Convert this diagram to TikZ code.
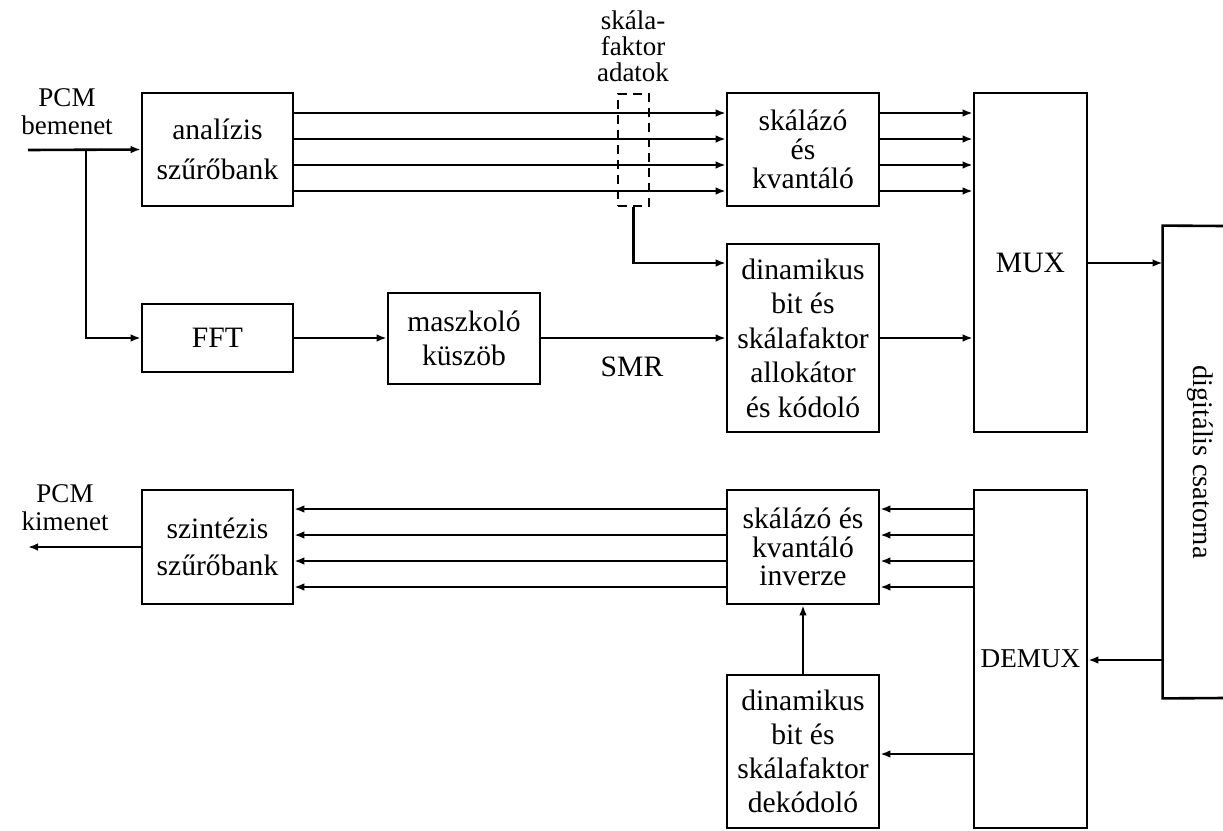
\documentclass[tikz,border=0pt]{standalone}
\usepackage{fontspec}
\setmainfont{Liberation Serif}
\usetikzlibrary{arrows.meta}

\tikzset{
  blk/.style={draw, line width=1.3pt, inner sep=0pt, align=center,
    font=\fontsize{14.8}{17.25}\selectfont},
  lbl/.style={inner sep=0pt, align=center, font=\fontsize{13.5}{14}\selectfont},
  arr/.style={line width=1.3pt, -{Latex[length=5pt,width=3.8pt]}},
  ln/.style={line width=1.3pt},
  sp2/.style={font=\fontsize{14.8}{20}\selectfont},
  sp3/.style={font=\fontsize{14.8}{14.5}\selectfont}
}

\begin{document}
\begin{tikzpicture}[x=0.5pt,y=-0.5pt]
\useasboundingbox (0,0) rectangle (1223,831);

% --- encoder ---
\node[blk, sp2, minimum width=75.5pt, minimum height=56.5pt] (ana) at (217.5,149.5) {analízis\\szűrőbank};
\node[blk, sp3, minimum width=76pt, minimum height=56.5pt] (skq) at (803,149.5) {skálázó\\és\\kvantáló};
\node[blk, minimum width=76pt, minimum height=94pt] (dyn) at (803,338) {dinamikus\\bit és\\skálafaktor\\allokátor\\és kódoló};
\node[blk, minimum width=56.5pt, minimum height=169.5pt] (mux) at (1030.5,262.5) {MUX};
\node[blk, minimum width=75.5pt, minimum height=34pt] (fft) at (217.5,338) {FFT};
\node[blk, minimum width=76pt, minimum height=45.5pt] (mask) at (464,338.5) {maszkoló\\küszöb};
\node[draw, dashed, dash pattern=on 4.5pt off 3pt, line width=1.3pt, inner sep=0pt,
      minimum width=15.5pt, minimum height=56pt] (sfd) at (633.5,150) {};

% --- channel ---
\node[inner sep=0pt, minimum width=36pt, minimum height=236pt] (chan) at (1199,462) {};
\node[rotate=-90, font=\fontsize{14.2}{16}\selectfont] (chanlbl) at (1200,462) {digitális csatorna};
\draw[ln] (1224,226) -- (chan.north west) -- (chan.south west) -- (1224,698);

% --- decoder ---
\node[blk, font=\fontsize{14.8}{18.5}\selectfont, minimum width=75.5pt, minimum height=57pt] (syn) at (217.5,547) {szintézis\\szűrőbank};
\node[blk, font=\fontsize{14.8}{14.25}\selectfont, minimum width=76pt, minimum height=57pt] (inv) at (803,547) {skálázó és\\kvantáló\\inverze};
\node[blk, font=\fontsize{14.8}{17}\selectfont, minimum width=76pt, minimum height=76.5pt] (dek) at (803,751.5) {dinamikus\\bit és\\skálafaktor\\dekódoló};
\node[blk, font=\fontsize{13.6}{16}\selectfont, minimum width=56.5pt, minimum height=169pt] (demux) at (1030.5,659) {DEMUX};

% --- free labels ---
\node[lbl] (pcmin) at (67,112) {PCM\\bemenet};
\node[lbl] (pcmout) at (65,508) {PCM\\kimenet};
\node[lbl, font=\fontsize{13.5}{13}\selectfont] (sflbl) at (633,46) {skála-\\faktor\\adatok};
\node[font=\fontsize{14.8}{17}\selectfont, inner sep=0pt] (smr) at (632,367) {SMR};

% --- encoder connectors ---
\coordinate (in) at (28,150);
\coordinate (br) at (86,150);
\draw[arr] (in) -- (ana.west);
\draw[arr] (br) |- (fft.west);
\foreach \yy in {113,139,165,191} {
  \draw[arr] (ana.east |- 0,\yy) -- (skq.west |- 0,\yy);
  \draw[arr] (skq.east |- 0,\yy) -- (mux.west |- 0,\yy);
}
\draw[arr] (sfd.south) |- (dyn.west |- 0,263);
\draw[arr] (fft.east) -- (mask.west |- fft.east);
\draw[arr] (mask.east |- dyn.west) -- (dyn.west);
\draw[arr] (dyn.east) -- (mux.west |- dyn.east);
\draw[arr] (mux.east |- 0,263) -- (chan.west |- 0,263);

% --- decoder connectors ---
\coordinate (out) at (28,547);
\draw[arr] (chan.west |- 0,660) -- (demux.east |- 0,660);
\foreach \yy in {509,535,561,587} {
  \draw[arr] (demux.west |- 0,\yy) -- (inv.east |- 0,\yy);
  \draw[arr] (inv.west |- 0,\yy) -- (syn.east |- 0,\yy);
}
\draw[arr] (syn.west) -- (out);
\draw[arr] (dek.north) -- (inv.south);
\draw[arr] (demux.west |- 0,754) -- (dek.east |- 0,754);
\end{tikzpicture}
\end{document}
